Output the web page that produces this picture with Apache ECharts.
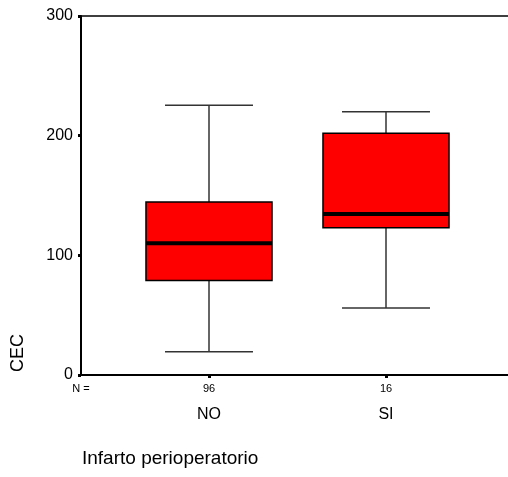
<!DOCTYPE html>
<html>
<head>
<meta charset="utf-8">
<script src="https://cdn.jsdelivr.net/npm/echarts@6/dist/echarts.min.js"></script>
<style>html,body{margin:0;padding:0;background:#fff;}#chart{width:508px;height:477px;}</style>
</head>
<body>
<div id="chart"></div>
<script>
var categories = ['NO', 'SI'];
var nCounts = [96, 16];
var lowerWhisker = [19.5, 56];
var q1 = [79, 123];
var median = [110, 134.5];
var q3 = [144.5, 202];
var upperWhisker = [225.5, 220];
var yTicks = [0, 100, 200, 300];

var FONT = 'Liberation Sans, Arial, Helvetica, sans-serif';
var BOX_RATIO = 0.712;
var CAP_RATIO = 0.497;

var boxData = categories.map(function (c, i) {
  return [i, lowerWhisker[i], q1[i], median[i], q3[i], upperWhisker[i]];
});

var chart = echarts.init(document.getElementById('chart'), null, {renderer: 'canvas'});
chart.setOption({
  animation: false,
  backgroundColor: '#ffffff',
  grid: [
    {left: 81, right: 0, top: 16, bottom: 102},
    {left: 120.5, right: 33.5, top: 16, bottom: 102}
  ],
  xAxis: [
    {gridIndex: 0, type: 'value', min: 0, max: 1, position: 'bottom',
      axisLine: {show: true, lineStyle: {color: '#000', width: 2}},
      axisTick: {show: false}, axisLabel: {show: false}, splitLine: {show: false}},
    {gridIndex: 0, type: 'value', min: 0, max: 1, position: 'top',
      axisLine: {show: true, lineStyle: {color: '#000', width: 1.5}},
      axisTick: {show: false}, axisLabel: {show: false}, splitLine: {show: false}},
    {gridIndex: 1, type: 'category', data: categories, position: 'bottom',
      axisLine: {show: false},
      axisTick: {show: true, alignWithLabel: true, length: 3, lineStyle: {color: '#000', width: 3}},
      axisLabel: {
        margin: 7,
        formatter: function (v, i) { return '{n|' + nCounts[i] + '}\n{c|' + v + '}'; },
        rich: {
          n: {fontSize: 11, fontFamily: FONT, color: '#000', lineHeight: 14},
          c: {fontSize: 16, fontFamily: FONT, color: '#000', lineHeight: 37}
        }
      },
      splitLine: {show: false}}
  ],
  yAxis: [
    {gridIndex: 0, type: 'value', min: yTicks[0], max: yTicks[yTicks.length - 1], interval: 100,
      axisLine: {show: true, lineStyle: {color: '#000', width: 2}},
      axisTick: {show: true, length: 3, lineStyle: {color: '#000', width: 3}},
      axisLabel: {fontSize: 16, fontFamily: FONT, color: '#000', margin: 8},
      splitLine: {show: false}},
    {gridIndex: 1, type: 'value', min: yTicks[0], max: yTicks[yTicks.length - 1], interval: 100,
      show: false, splitLine: {show: false}}
  ],
  series: [{
    type: 'custom',
    xAxisIndex: 2,
    yAxisIndex: 1,
    data: boxData,
    encode: {x: 0, y: [1, 2, 3, 4, 5]},
    renderItem: function (params, api) {
      var i = api.value(0);
      var pLo = api.coord([i, api.value(1)]);
      var pQ1 = api.coord([i, api.value(2)]);
      var pMed = api.coord([i, api.value(3)]);
      var pQ3 = api.coord([i, api.value(4)]);
      var pHi = api.coord([i, api.value(5)]);
      var band = api.size([1, 0])[0];
      var bw = band * BOX_RATIO;
      var cw = band * CAP_RATIO;
      var x = pLo[0];
      var wStyle = {stroke: '#333', lineWidth: 1.5};
      return {
        type: 'group',
        children: [
          {type: 'line', shape: {x1: x, y1: pHi[1], x2: x, y2: pQ3[1]}, style: wStyle},
          {type: 'line', shape: {x1: x, y1: pQ1[1], x2: x, y2: pLo[1]}, style: wStyle},
          {type: 'line', shape: {x1: x - cw / 2, y1: pHi[1], x2: x + cw / 2, y2: pHi[1]}, style: wStyle},
          {type: 'line', shape: {x1: x - cw / 2, y1: pLo[1], x2: x + cw / 2, y2: pLo[1]}, style: wStyle},
          {type: 'rect', shape: {x: x - bw / 2, y: pQ3[1], width: bw, height: pQ1[1] - pQ3[1]},
            style: {fill: '#ff0000', stroke: '#000', lineWidth: 1.5}},
          {type: 'line', shape: {x1: x - bw / 2, y1: pMed[1], x2: x + bw / 2, y2: pMed[1]},
            style: {stroke: '#000', lineWidth: 4}}
        ]
      };
    }
  }],
  graphic: [
    {type: 'text', x: 81, y: 389,
      style: {text: 'N =', fontSize: 11, fontFamily: FONT, fill: '#000', align: 'center', verticalAlign: 'middle'}},
    {type: 'text', x: 18.5, y: 372, rotation: Math.PI / 2,
      style: {text: 'CEC', fontSize: 18, fontFamily: FONT, fill: '#000', align: 'left', verticalAlign: 'middle'}},
    {type: 'text', x: 82, y: 459,
      style: {text: 'Infarto perioperatorio', fontSize: 19, fontFamily: FONT, fill: '#000', align: 'left', verticalAlign: 'middle'}}
  ]
});
</script>
</body>
</html>
